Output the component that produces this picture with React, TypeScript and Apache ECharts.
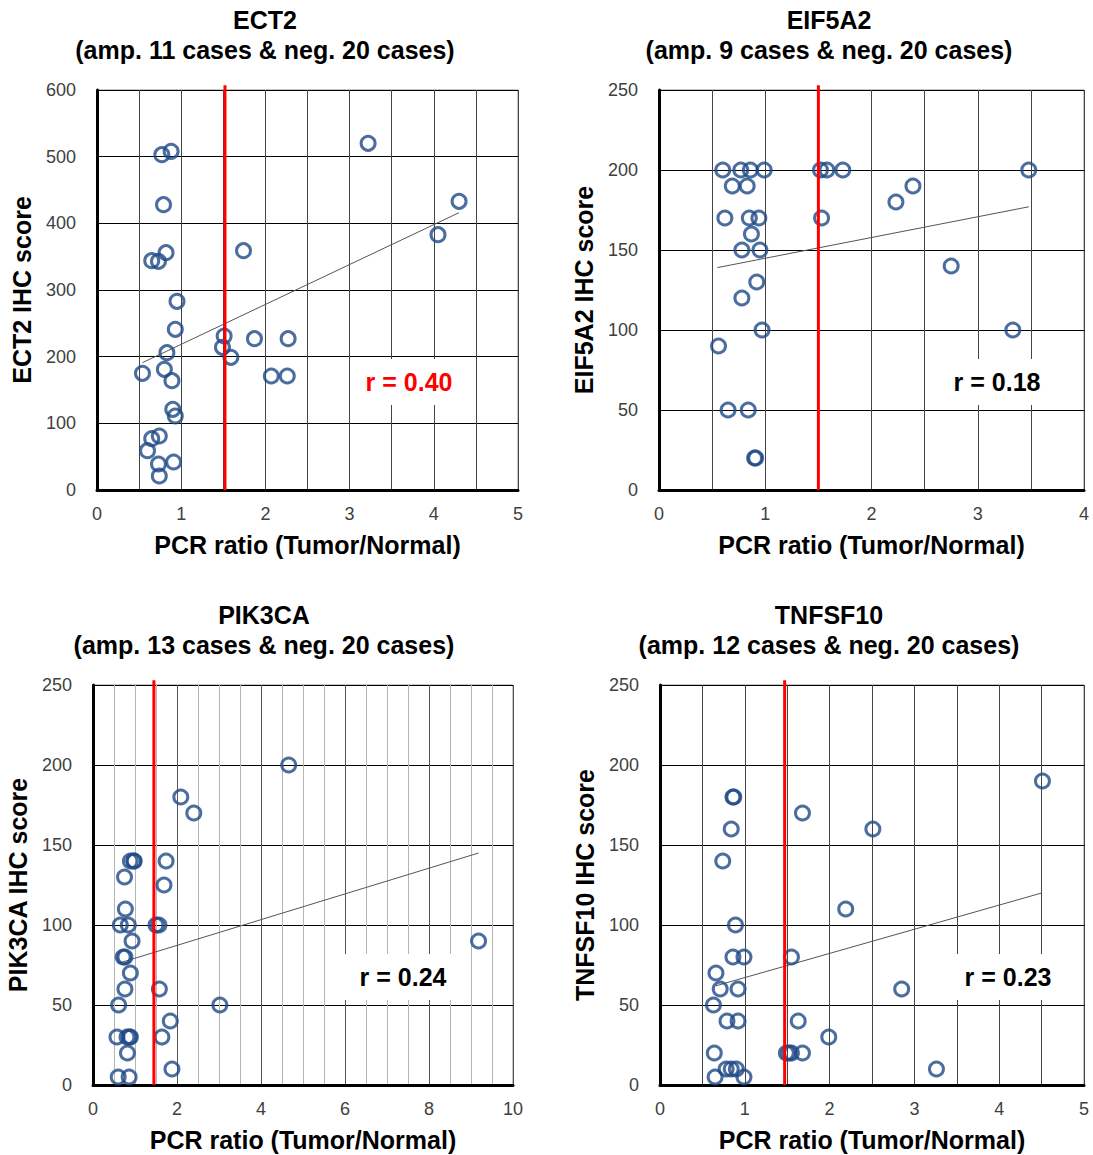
import React, { useEffect, useRef } from "react";
import * as echarts from "echarts";

// ---------- DATA ----------
const ECT2_POINTS: [number, number][] = [
  [3.22, 520], [0.77, 503], [0.88, 508], [0.79, 428], [4.3, 433], [4.05, 383],
  [1.74, 359], [0.82, 356], [0.65, 344], [0.73, 343], [0.95, 283], [0.93, 241],
  [1.51, 231], [1.87, 227], [2.27, 227], [1.49, 214], [1.59, 199], [0.83, 206],
  [0.54, 175], [0.8, 181], [0.89, 164], [2.07, 171], [2.26, 171], [0.9, 121],
  [0.93, 111], [0.74, 81], [0.65, 77], [0.6, 59], [0.73, 39], [0.91, 42], [0.74, 21],
];
const EIF5A2_POINTS: [number, number][] = [
  [0.6, 200], [0.77, 200], [0.86, 200], [0.99, 200], [1.52, 200], [1.58, 200],
  [1.73, 200], [3.48, 200], [0.69, 190], [0.83, 190], [2.39, 190], [2.23, 180],
  [0.62, 170], [0.85, 170], [0.94, 170], [1.53, 170], [0.87, 160], [0.78, 150],
  [0.95, 150], [2.75, 140], [0.92, 130], [0.78, 120], [0.97, 100], [3.33, 100],
  [0.56, 90], [0.65, 50], [0.84, 50], [0.9, 20], [0.91, 20],
];
const PIK3CA_POINTS: [number, number][] = [
  [4.66, 200], [2.09, 180], [2.4, 170], [0.89, 140], [0.97, 140], [1.74, 140],
  [0.75, 130], [1.69, 125], [0.77, 110], [0.65, 100], [0.84, 100], [1.5, 100],
  [1.57, 100], [0.93, 90], [0.72, 80], [0.76, 80], [0.89, 70], [0.76, 60],
  [1.58, 60], [0.61, 50], [3.02, 50], [1.84, 40], [0.57, 30], [0.81, 30],
  [0.89, 30], [1.64, 30], [0.82, 20], [1.88, 10], [0.6, 5], [0.86, 5],
  [9.18, 90], [0.98, 140], [0.87, 30],
];
const TNFSF10_POINTS: [number, number][] = [
  [4.51, 190], [0.86, 180], [0.87, 180], [1.68, 170], [0.84, 160], [2.51, 160],
  [0.74, 140], [2.19, 110], [0.89, 100], [0.86, 80], [0.99, 80], [1.55, 80],
  [0.66, 70], [0.71, 60], [0.92, 60], [2.85, 60], [0.63, 50], [0.79, 40],
  [0.92, 40], [1.63, 40], [1.99, 30], [0.64, 20], [1.49, 20], [1.55, 20],
  [1.68, 20], [0.78, 10], [0.84, 10], [0.9, 10], [3.26, 10], [0.65, 5],
  [0.99, 5], [1.52, 20],
];

// trend lines (start, end)
const ECT2_TREND: [number, number][] = [[0.54, 191], [4.3, 416]];
const EIF5A2_TREND: [number, number][] = [[0.55, 139], [3.48, 177]];
const PIK3CA_TREND: [number, number][] = [[0.6, 76], [9.18, 145]];
const TNFSF10_TREND: [number, number][] = [[0.66, 62], [4.5, 120]];

const THRESHOLDS = [1.52, 1.5, 1.45, 1.47];
const GENES = ["ECT2", "EIF5A2", "PIK3CA", "TNFSF10"];
const AMP_CASES = [11, 9, 13, 12];
const NEG_CASES = [20, 20, 20, 20];
const R_VALUES = ["0.40", "0.18", "0.24", "0.23"];
const X_MAX = [5, 4, 10, 5];
const X_INTERVAL = [1, 1, 2, 1];
const X_MINOR = [2, 2, 4, 2];
const Y_MAX = [600, 250, 250, 250];
const Y_INTERVAL = [100, 50, 50, 50];
const X_NAME = "PCR ratio (Tumor/Normal)";

// ---------- LAYOUT ----------
const GRIDS = [
  { left: 97, top: 90, width: 421, height: 400 },
  { left: 659, top: 90, width: 425, height: 400 },
  { left: 93, top: 685, width: 420, height: 400 },
  { left: 660, top: 685, width: 424, height: 400 },
];
const TITLE_CENTERS = [265, 829, 264, 829];
const R_BOX = [
  { cx: 409, cy: 382 },
  { cx: 997, cy: 382 },
  { cx: 403, cy: 977 },
  { cx: 1008, cy: 977 },
];

const FONT = "'Liberation Sans', Arial, sans-serif";
const POINT_COLOR = "#1F4A87";

export default function App() {
  const ref = useRef<HTMLDivElement>(null);
  useEffect(() => {
    if (!ref.current) return;
    const chart = echarts.init(ref.current, null, { renderer: "svg" });
    const pointSets = [ECT2_POINTS, EIF5A2_POINTS, PIK3CA_POINTS, TNFSF10_POINTS];
    const trends = [ECT2_TREND, EIF5A2_TREND, PIK3CA_TREND, TNFSF10_TREND];

    const grid = GRIDS.map((g) => ({
      ...g,
      show: true,
      borderColor: "#8c8c8c",
      borderWidth: 1,
      backgroundColor: "#fff",
    }));

    const xAxis = GRIDS.map((_, i) => ({
      type: "value",
      gridIndex: i,
      min: 0,
      max: X_MAX[i],
      interval: X_INTERVAL[i],
      name: X_NAME,
      nameLocation: "middle",
      nameGap: 42,
      nameTextStyle: { fontFamily: FONT, fontWeight: "bold", fontSize: 25, color: "#000" },
      axisLine: { show: true, onZero: false, lineStyle: { color: "#000", width: 3 } },
      axisTick: { show: false },
      axisLabel: { margin: 15, fontFamily: FONT, fontSize: 18, color: "#404040" },
      splitLine: { show: true, lineStyle: { color: i === 2 ? "#555" : "#444", width: 1 } },
      minorTick: { show: false, splitNumber: X_MINOR[i] },
      minorSplitLine: {
        show: true,
        lineStyle: { color: i === 2 ? "#b5b5b5" : "#444", width: 1 },
      },
    }));

    const yAxis = GRIDS.map((_, i) => ({
      type: "value",
      gridIndex: i,
      min: 0,
      max: Y_MAX[i],
      interval: Y_INTERVAL[i],
      name: `${GENES[i]} IHC score`,
      nameLocation: "middle",
      nameGap: 63,
      nameTextStyle: { fontFamily: FONT, fontWeight: "bold", fontSize: 25, color: "#000" },
      axisLine: { show: true, onZero: false, lineStyle: { color: "#000", width: 3 } },
      axisTick: { show: false },
      axisLabel: { margin: 21, fontFamily: FONT, fontSize: 18, color: "#404040" },
      splitLine: { show: true, lineStyle: { color: "#000", width: 1 } },
    }));

    const series: any[] = [];
    GRIDS.forEach((_, i) => {
      series.push({
        type: "line",
        xAxisIndex: i,
        yAxisIndex: i,
        data: trends[i],
        symbol: "none",
        lineStyle: { color: "#555", width: 1 },
        z: 3,
      });
      series.push({
        type: "scatter",
        xAxisIndex: i,
        yAxisIndex: i,
        data: pointSets[i],
        symbol: "circle",
        symbolSize: 14,
        itemStyle: { color: "rgba(255,255,255,0)", borderColor: POINT_COLOR, borderWidth: 3 },
        z: 4,
      });
      series.push({
        type: "line",
        xAxisIndex: i,
        yAxisIndex: i,
        data: [
          [THRESHOLDS[i], 0],
          [THRESHOLDS[i], Y_MAX[i] * 1.012],
        ],
        clip: false,
        symbol: "none",
        lineStyle: { color: "#ff0000", width: 3 },
        z: 5,
      });
    });

    const graphic: any[] = [];
    GRIDS.forEach((g, i) => {
      graphic.push({
        type: "text",
        x: TITLE_CENTERS[i],
        y: g.top - 85,
        style: {
          text: `${GENES[i]}\n(amp. ${AMP_CASES[i]} cases & neg. ${NEG_CASES[i]} cases)`,
          fontFamily: FONT,
          fontWeight: "bold",
          fontSize: 25,
          lineHeight: 30,
          fill: "#000",
          textAlign: "center",
          textVerticalAlign: "top",
        },
      });
      graphic.push({
        type: "rect",
        shape: { x: R_BOX[i].cx - 58, y: R_BOX[i].cy - 23, width: 116, height: 46 },
        style: { fill: "#fff" },
        z: 10,
      });
      graphic.push({
        type: "text",
        x: R_BOX[i].cx,
        y: R_BOX[i].cy,
        style: {
          text: `r = ${R_VALUES[i]}`,
          fontFamily: FONT,
          fontWeight: "bold",
          fontSize: 25,
          fill: i === 0 ? "#ff0000" : "#000",
          textAlign: "center",
          textVerticalAlign: "middle",
        },
        z: 11,
      });
    });

    chart.setOption({
      animation: false,
      backgroundColor: "#fff",
      grid,
      xAxis,
      yAxis,
      series,
      graphic,
    });
    return () => chart.dispose();
  }, []);

  return (
    <div
      ref={ref}
      style={{ position: "absolute", left: 0, top: 0, width: 1093, height: 1155 }}
    />
  );
}
